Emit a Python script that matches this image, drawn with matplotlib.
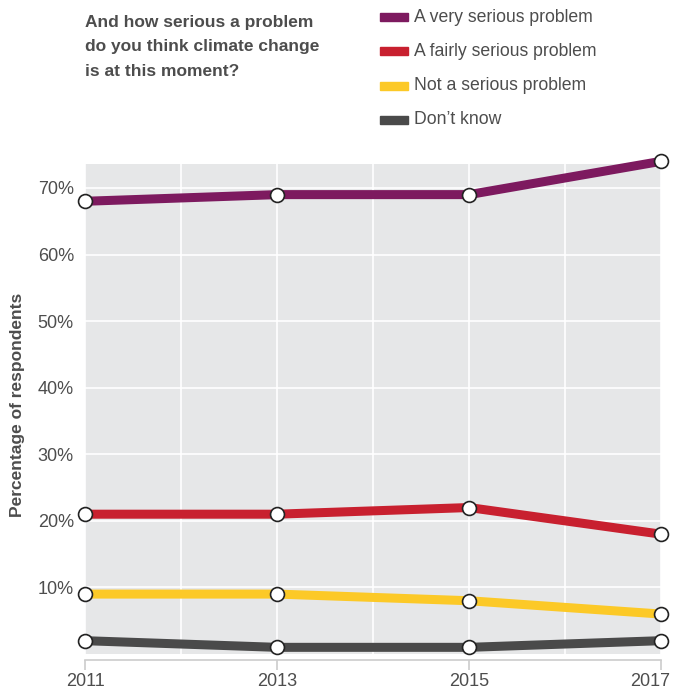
import matplotlib
matplotlib.use("Agg")
import matplotlib.pyplot as plt
from matplotlib.patches import Rectangle
from matplotlib.transforms import ScaledTranslation

years = [2011, 2013, 2015, 2017]
very_serious = [68, 69, 69, 74]
fairly_serious = [21, 21, 22, 18]
not_serious = [9, 9, 8, 6]
dont_know = [2, 1, 1, 2]
series_names = ["A very serious problem", "A fairly serious problem",
                "Not a serious problem", "Don\u2019t know"]
colors = ["#7d1a5f", "#c8202f", "#fcc927", "#4a4a4a"]
yticks = [10, 20, 30, 40, 50, 60, 70]
title_lines = ["And how serious a problem", "do you think climate change",
               "is at this moment?"]

plt.rcParams["font.family"] = ["Liberation Sans", "DejaVu Sans"]
txt = "#4d4d4d"

fig = plt.figure(figsize=(6.73, 6.93), dpi=100)
ax = fig.add_axes([85/673, 1-654/693, 576/673, 490/693])
ax.set_facecolor("#e6e7e8")
ax.set_xlim(2011, 2017)
ax.set_ylim(0, 73.6)

for vals, c in zip([very_serious, fairly_serious, not_serious, dont_know], colors):
    ax.plot(years, vals, color=c, lw=6.5, solid_capstyle="butt", zorder=3, clip_on=False)
    ax.plot(years, vals, ls="none", marker="o", ms=10, mfc="white", mec="#222222",
            mew=1.2, zorder=4, clip_on=False)

ax.set_yticks(yticks)
ax.set_yticklabels([f"{v}%" for v in yticks])
ax.set_xticks(range(2011, 2018))
ax.set_xticklabels([str(y) if y in years else "" for y in range(2011, 2018)])
ax.grid(True, color="white", lw=1.2, zorder=1)
ax.set_axisbelow(True)
for s in ["top", "right", "left"]:
    ax.spines[s].set_visible(False)
ax.spines["bottom"].set_position(("outward", 4))
ax.spines["bottom"].set_color("#cccccc")
ax.spines["bottom"].set_linewidth(1.2)
ax.tick_params(axis="y", length=0, pad=8, labelsize=13, labelcolor=txt)
ax.tick_params(axis="x", length=7, color="#cccccc", width=1.2, pad=3,
               labelsize=13, labelcolor=txt)
for t, y in zip(ax.xaxis.get_major_ticks(), range(2011, 2018)):
    if y not in years:
        t.tick1line.set_visible(False)
last = ax.get_xticklabels()[-1]
last.set_ha("right")
last.set_transform(last.get_transform() + ScaledTranslation(9/100, 0, fig.dpi_scale_trans))

fig.text(18/673, 1-405/693, "Percentage of respondents", rotation=90, ha="center",
         va="center", fontsize=12.5, fontweight="bold", color=txt)

for line, yy in zip(title_lines, [22, 47, 72]):
    fig.text(85/673, 1-yy/693, line, ha="left", va="center", fontsize=12.5,
             fontweight="bold", color=txt)

leg_y = [17, 51, 86, 120]
for name, c, yy in zip(series_names, colors, leg_y):
    fig.patches.append(Rectangle((380/673, 1-(yy+4)/693), 28/673, 8/693,
                                 transform=fig.transFigure, color=c))
    fig.text(414/673, 1-yy/693, name, ha="left", va="center", fontsize=12.7, color=txt)

fig.savefig("out.png", dpi=100)
